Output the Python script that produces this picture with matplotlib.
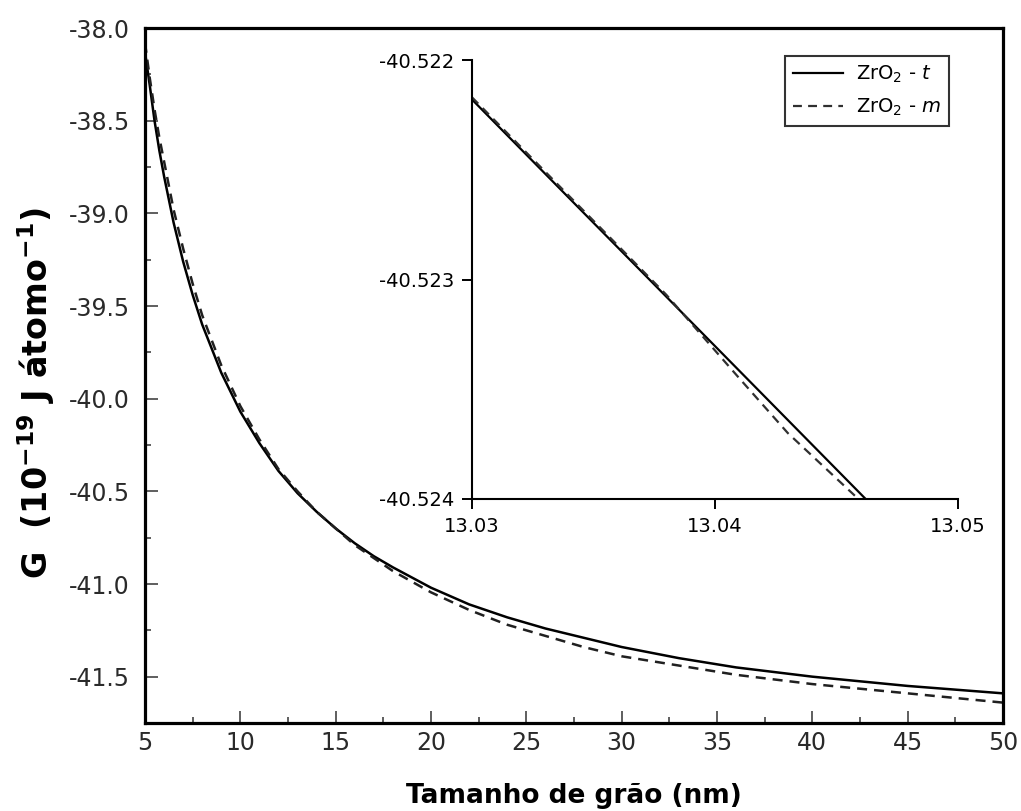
import matplotlib
matplotlib.use("Agg")
import matplotlib.pyplot as plt
from matplotlib.ticker import MultipleLocator, FormatStrFormatter

plt.rcParams['font.family'] = ['DejaVu Sans']
plt.rcParams['mathtext.fontset'] = 'dejavusans'
plt.rcParams['mathtext.default'] = 'regular'
plt.rcParams['axes.unicode_minus'] = False

# ---- main data (grain size in nm, G in 1e-19 J/atom) ----
size_nm = [5, 5.25, 5.5, 5.75, 6, 6.5, 7, 7.5, 8, 9, 10, 11, 12, 13, 14, 15,
           16, 17, 18, 20, 22, 24, 26, 28, 30, 33, 36, 40, 45, 50]
g_tetragonal = [-38.13, -38.31, -38.50, -38.66, -38.80, -39.05, -39.26, -39.44,
                -39.60, -39.86, -40.07, -40.24, -40.39, -40.51, -40.61, -40.70,
                -40.78, -40.85, -40.91, -41.02, -41.11, -41.18, -41.24, -41.29,
                -41.34, -41.40, -41.45, -41.50, -41.55, -41.59]
g_monoclinic = [-38.08, -38.27, -38.44, -38.59, -38.72, -38.98, -39.19, -39.38,
                -39.55, -39.82, -40.04, -40.22, -40.38, -40.50, -40.61, -40.70,
                -40.79, -40.86, -40.93, -41.045, -41.14, -41.22, -41.28, -41.34,
                -41.39, -41.44, -41.49, -41.54, -41.59, -41.64]

# ---- inset data ----
inset_size_t = [13.03, 13.0462]
inset_g_t = [-40.52218, -40.52400]
inset_size_m = [13.03, 13.034, 13.038, 13.041, 13.043, 13.0459]
inset_g_m = [-40.52217, -40.52262, -40.52307, -40.52345, -40.52370, -40.52400]

label_t = r"ZrO$_2$ - $\mathit{t}$"
label_m = r"ZrO$_2$ - $\mathit{m}$"

fig = plt.figure(figsize=(10.21, 8.11), dpi=100)

ax = fig.add_axes([145/1021, 1-723/811, (1003-145)/1021, (723-28)/811])
ax.plot(size_nm, g_tetragonal, color='black', lw=1.8, solid_capstyle='butt')
ax.plot(size_nm, g_monoclinic, color='#202020', lw=1.8, dashes=(4, 2.8))
ax.set_xlim(5, 50)
ax.set_ylim(-41.75, -38.0)
ax.xaxis.set_major_locator(MultipleLocator(5))
ax.xaxis.set_minor_locator(MultipleLocator(2.5))
ax.yaxis.set_major_locator(MultipleLocator(0.5))
ax.yaxis.set_minor_locator(MultipleLocator(0.25))
ax.yaxis.set_major_formatter(FormatStrFormatter('%.1f'))
ax.xaxis.set_major_formatter(FormatStrFormatter('%d'))
ax.tick_params(which='both', direction='in', top=False, right=False,
               width=1.1, color='#333333')
ax.tick_params(which='major', length=9, labelsize=17, labelcolor='#2a2a2a')
ax.tick_params(which='minor', length=4.5)
ax.tick_params(axis='y', which='major', pad=11)
ax.tick_params(axis='x', which='major', pad=6)
for sp in ax.spines.values():
    sp.set_linewidth(2.3)
ax.set_xlabel("Tamanho de grão (nm)", fontsize=19, fontweight='bold', labelpad=20)
ax.set_ylabel("G  (10$^{-19}$ J átomo$^{-1}$)", fontsize=24, fontweight='bold')
ax.yaxis.set_label_coords(-0.103, 0.475)

# ---- inset ----
axi = fig.add_axes([472/1021, 1-499/811, (958-472)/1021, (499-60)/811])
axi.plot(inset_size_t, inset_g_t, color='black', lw=1.6, label=label_t)
axi.plot(inset_size_m, inset_g_m, color='#303030', lw=1.6, dashes=(4, 2.8),
         label=label_m)
axi.set_xlim(13.03, 13.05)
axi.set_ylim(-40.524, -40.522)
axi.set_xticks([13.03, 13.04, 13.05])
axi.set_yticks([-40.524, -40.523, -40.522])
axi.xaxis.set_major_formatter(FormatStrFormatter('%.2f'))
axi.yaxis.set_major_formatter(FormatStrFormatter('%.3f'))
axi.spines['top'].set_visible(False)
axi.spines['right'].set_visible(False)
for s in ('left', 'bottom'):
    axi.spines[s].set_linewidth(1.5)
axi.tick_params(direction='out', length=7, width=1.4, labelsize=14, pad=6)
axi.patch.set_alpha(0)

# ---- legend ----
leg = fig.legend(handles=axi.get_lines(), loc='upper right',
                 bbox_to_anchor=(949/1021, 1-56/811), fontsize=14,
                 frameon=True, fancybox=False, handlelength=2.6,
                 handletextpad=0.65, borderpad=0.4, labelspacing=0.6,
                 borderaxespad=0)
leg.get_frame().set_edgecolor('black')
leg.get_frame().set_linewidth(1.5)

fig.savefig("out.png", dpi=100)
